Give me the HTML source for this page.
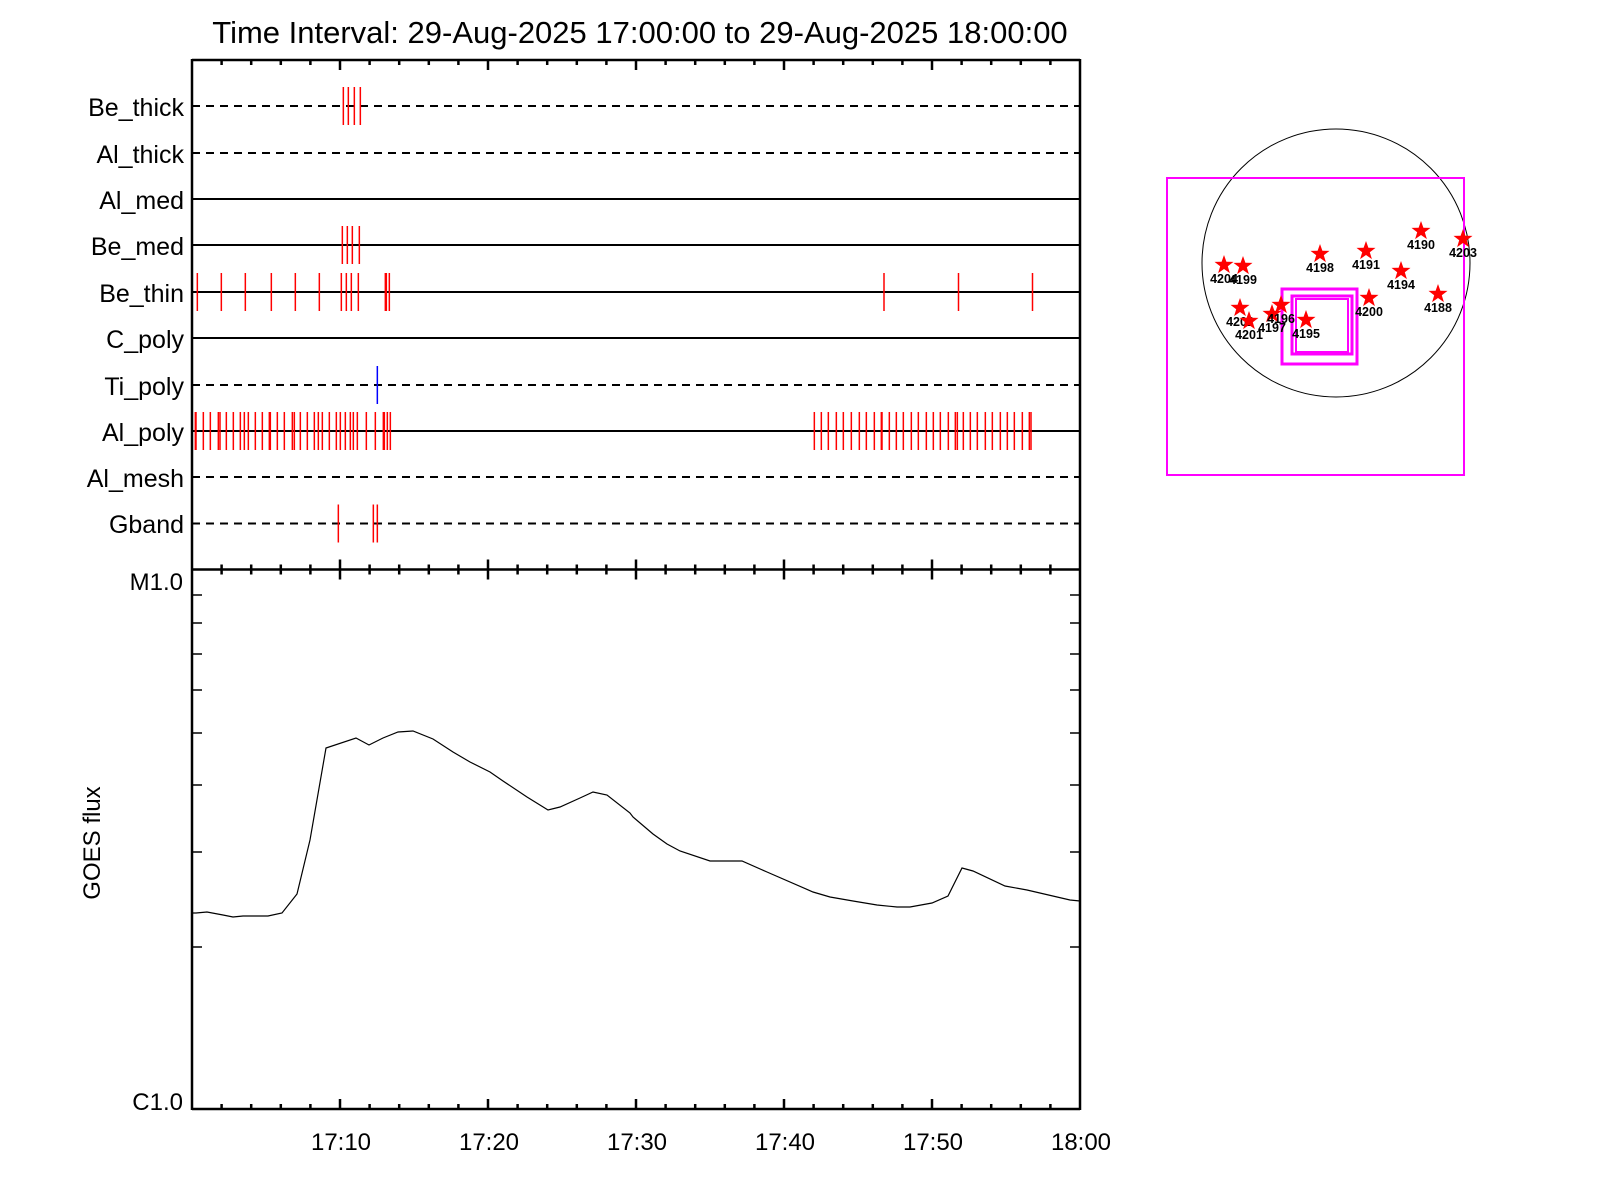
<!DOCTYPE html>
<html><head><meta charset="utf-8"><style>
html,body{margin:0;padding:0;background:#fff;}
svg{display:block;font-family:"Liberation Sans",sans-serif;}
</style></head><body>
<svg id="s" width="1600" height="1200" viewBox="0 0 1600 1200" xmlns="http://www.w3.org/2000/svg">
<rect width="1600" height="1200" fill="#fff"/>
<text x="640" y="43" font-size="31" text-anchor="middle">Time Interval: 29-Aug-2025 17:00:00 to 29-Aug-2025 18:00:00</text>
<g font-size="25" text-anchor="end">
<text x="184" y="116">Be_thick</text>
<text x="184" y="163">Al_thick</text>
<text x="184" y="209">Al_med</text>
<text x="184" y="255">Be_med</text>
<text x="184" y="302">Be_thin</text>
<text x="184" y="348">C_poly</text>
<text x="184" y="395">Ti_poly</text>
<text x="184" y="441">Al_poly</text>
<text x="184" y="487">Al_mesh</text>
<text x="184" y="533">Gband</text>
<text x="183" y="590" font-size="24">M1.0</text>
<text x="183" y="1110" font-size="24">C1.0</text>
</g>
<g font-size="24" text-anchor="middle">
<text x="341" y="1150">17:10</text>
<text x="489" y="1150">17:20</text>
<text x="637" y="1150">17:30</text>
<text x="785" y="1150">17:40</text>
<text x="933" y="1150">17:50</text>
<text x="1081" y="1150">18:00</text>
</g>
<text transform="translate(100,843) rotate(-90)" font-size="24" text-anchor="middle">GOES flux</text>
<g id="g"></g>
<polyline fill="none" stroke="#000" stroke-width="1.2" points="192,913 196,913 207,912 223,915 233,917 243,916 268,916 282,913 297,894 310,840 326,748 356,738 369,745 383,738 398,732 413,731 433,739 453,752 470,762 490,772 503,781 527,797 548,810 560,807 580,798 593,792 607,795 630,813 633,817 653,834 667,844 680,851 710,861 742,861 767,872 813,892 830,897 853,901 877,905 897,907 910,907 932,903 948,896 962,868 973,871 1005,886 1027,890 1070,900 1080,901"/>
<g fill="none" stroke="#000" stroke-width="1"><circle cx="1336" cy="263" r="134"/></g>
<g fill="none" stroke="#f0f" stroke-width="2">
<rect x="1167" y="178" width="297" height="297"/>
<rect x="1282" y="289" width="75" height="75" stroke-width="3"/>
<rect x="1292" y="296" width="60" height="58" stroke-width="3"/>
<rect x="1296" y="299" width="52" height="53" stroke-width="2"/>
</g>
<g id="st"></g>
</svg>
<script>
var NS="http://www.w3.org/2000/svg",g=document.getElementById('g');
function L(x1,y1,x2,y2,c,w,d){var e=document.createElementNS(NS,'line');e.setAttribute('x1',x1);e.setAttribute('y1',y1);e.setAttribute('x2',x2);e.setAttribute('y2',y2);e.setAttribute('stroke',c);e.setAttribute('stroke-width',w);if(d)e.setAttribute('stroke-dasharray',d);g.appendChild(e);}
var X0=192,X1=1080,T=60,M=569.5,B=1109;
var rows=[[106,1],[153,1],[199,0],[245,0],[292,0],[338,0],[385,1],[431,0],[477,1],[523.5,1]];
rows.forEach(function(r){L(X0,r[0],X1,r[0],'#000',2,r[1]?'8,6':null);});
function rx(a){return a.map(function(v){return 180+v/3;});}
function ticks(xs,y,c){xs.forEach(function(x){L(x,y-19,x,y+19,c||'red',1.5);});}
ticks(rx([490,505,523,541]),106);
ticks(rx([487,502,517,538]),245);
ticks(rx([52,124,196,274,346,418,484,499,514,535,616,619,628]).concat([884,958.5,1032.5]),292);
ticks([180+592/3],385,'#00f');
ticks(rx([46,48,70,91,115,120,139,160,181,193,205,226,247,268,271,292,313,337,343,361,382,403,415,427,448,469,481,496,511,520,532,559,586,610,613,622,631]).concat([103,124,145,169,190,214,238,259,283,304,306,328,349,370,394,415,439,460,481,505,526,532,550,571,592,616,637,661,682,703,727,748,753].map(function(v){return 780+v/3;})),431);
ticks(rx([475,580,592]),523.5);
L(X0,T,X1,T,'#000',2.5);L(X0,M,X1,M,'#000',2.5);L(X0,B,X1,B,'#000',2.5);
L(X0,T-1,X0,B+1,'#000',2.5);L(X1,T-1,X1,B+1,'#000',2.5);
for(var i=1;i<30;i++){var x=X0+i*29.6,maj=(i%5==0),l=maj?10:5;
 L(x,T,x,T+l,'#000',2.5);L(x,M,x,M-l,'#000',2.5);L(x,M,x,M+l,'#000',2.5);L(x,B,x,B-l,'#000',2.5);}
[595,623,654,690,733,785,852,947].forEach(function(y){L(X0,y,X0+10,y,'#000',1.5);L(X1,y,X1-10,y,'#000',1.5);});
var st=document.getElementById('st');
var S=[[1224,265,'4204'],[1243,266,'4199'],[1320,254,'4198'],[1366,251,'4191'],[1421,231,'4190'],[1463,239,'4203'],[1401,271,'4194'],[1369,298,'4200'],[1438,294,'4188'],[1240,308,'4202'],[1249,321,'4201'],[1272,314,'4197'],[1281,305,'4196'],[1306,320,'4195']];
S.forEach(function(s){var p='',R=10,r=4;for(var k=0;k<10;k++){var a=-Math.PI/2+k*Math.PI/5,rr=k%2?r:R;p+=(s[0]+rr*Math.cos(a)).toFixed(1)+','+(s[1]+rr*Math.sin(a)).toFixed(1)+' ';}
var e=document.createElementNS(NS,'polygon');e.setAttribute('points',p);e.setAttribute('fill','red');st.appendChild(e);
var t=document.createElementNS(NS,'text');t.setAttribute('x',s[0]);t.setAttribute('y',s[1]+18);t.setAttribute('font-size','12.5');t.setAttribute('font-weight','bold');t.setAttribute('text-anchor','middle');t.textContent=s[2];st.appendChild(t);});
</script>
</body></html>
